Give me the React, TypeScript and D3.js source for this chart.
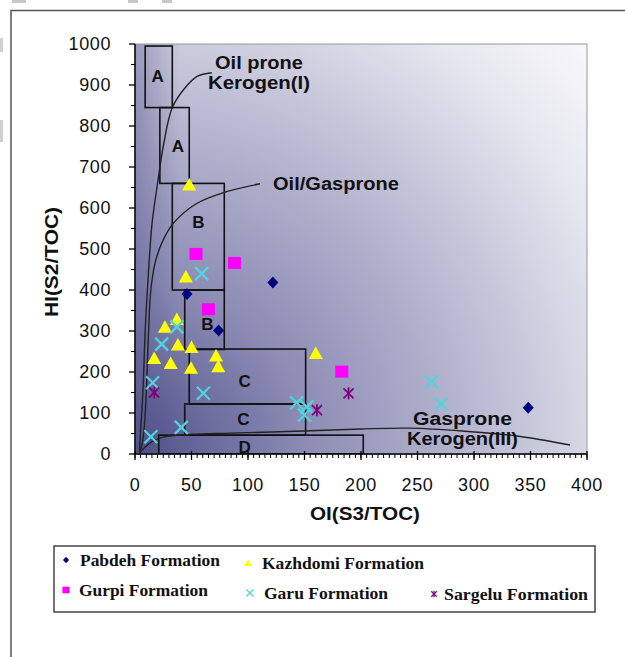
import React from 'react';
import * as d3 from 'd3';

// chart values
const xTickValues = [0, 50, 100, 150, 200, 250, 300, 350, 400];
const yTickValues = [0, 100, 200, 300, 400, 500, 600, 700, 800, 900, 1000];

// [OI, HI]
const pabdeh = [[122, 418], [46, 390], [74, 301], [348, 113]];
const kazhdomi = [
    [48, 656], [45, 432], [37, 328], [26.5, 309], [38, 266], [50, 260],
    [17, 233], [31.6, 221], [49.6, 209], [71.7, 239], [73.7, 213], [160, 245],
];
const gurpi = [[54, 488], [88, 466], [65, 353], [183, 201]];
const garu = [
    [59, 440], [37, 310], [23.6, 268], [15.6, 174], [60.5, 148], [143, 125],
    [152, 115], [150, 95], [41, 65], [14, 42], [262.5, 176], [271, 122],
];
const sargelu = [[17, 150], [189, 148], [161, 107]];

// kerogen zones: [label, oiMin, oiMax, hiMin, hiMax, labelOI, labelHI]
const zones = [
    ['A', 9, 33, 845, 995, 20, 920],
    ['A', 22, 48, 660, 845, 38, 750],
    ['B', 33, 79, 400, 660, 56, 565],
    ['B', 44, 79, 255, 400, 64, 315],
    ['C', 48, 151, 122, 256, 97, 178],
    ['C', 44, 151, 46, 122, 96, 85],
    ['D', 21, 202, 0, 46, 97, 17],
];

// kerogen type curves
const typeI = [[4, 5], [5, 60], [7, 150], [9, 300], [11.5, 424], [15, 560], [20, 661], [25, 750], [33, 845], [44, 892], [55, 921], [68, 930]];
const typeII = [[4, 5], [6, 20], [8, 60], [10, 150], [12, 300], [14, 400], [17.7, 465], [23.6, 514], [34, 563], [54.6, 611], [79, 638], [110.6, 659]];
const typeIII = [[4, 3], [9, 17], [15, 30], [25, 41], [50, 48], [84, 51], [149, 56], [200, 61], [243, 63], [290, 56], [338, 44], [385, 22]];

const W = 625;
const H = 657;
const plot = { l: 135, r: 587, t: 44, b: 454 };

const x = d3.scaleLinear().domain([0, 400]).range([plot.l, plot.r]);
const y = d3.scaleLinear().domain([0, 1000]).range([plot.b, plot.t]);

const sans = '"Liberation Sans", Arial, sans-serif';
const serif = '"Liberation Serif", "Times New Roman", serif';

function Marker({ kind, cx, cy, s = 1 }: { kind: string, cx: number, cy: number, s?: number }) {
    if (kind === 'diamond') {
        return <path d={`M${cx},${cy - 6 * s}L${cx + 5.5 * s},${cy}L${cx},${cy + 6 * s}L${cx - 5.5 * s},${cy}Z`} fill="#000080"/>;
    }
    if (kind === 'square') {
        return <rect x={cx - 6.5 * s} y={cy - 6 * s} width={13 * s} height={12 * s} fill="#ff00ff"/>;
    }
    if (kind === 'triangle') {
        return <path d={`M${cx},${cy - 7 * s}L${cx + 7 * s},${cy + 5.5 * s}L${cx - 7 * s},${cy + 5.5 * s}Z`} fill="#ffff00"/>;
    }
    if (kind === 'x') {
        const a = 6.5 * s;
        return (
            <g stroke="#4fd6dc" strokeWidth={2.2 * Math.max(s, 0.6)}>
                <line x1={cx - a} y1={cy - a} x2={cx + a} y2={cy + a}/>
                <line x1={cx - a} y1={cy + a} x2={cx + a} y2={cy - a}/>
            </g>
        );
    }
    const a = 5 * s;
    return (
        <g stroke="#800080" strokeWidth={1.8 * Math.max(s, 0.7)}>
            <line x1={cx - a} y1={cy - a} x2={cx + a} y2={cy + a}/>
            <line x1={cx - a} y1={cy + a} x2={cx + a} y2={cy - a}/>
            <line x1={cx} y1={cy - a * 1.2} x2={cx} y2={cy + a * 1.2}/>
        </g>
    );
}

const series = [
    { name: 'Pabdeh Formation', kind: 'diamond', data: pabdeh },
    { name: 'Kazhdomi Formation', kind: 'triangle', data: kazhdomi },
    { name: 'Gurpi Formation', kind: 'square', data: gurpi },
    { name: 'Garu Formation', kind: 'x', data: garu },
    { name: 'Sargelu Formation', kind: 'star', data: sargelu },
];

// legend layout: marker x, marker y, text x, text width
const legendPos = [
    [66, 560, 80, 140],
    [248, 563, 262, 162],
    [66, 590, 79, 129],
    [250, 593, 264, 124],
    [434, 594, 444, 144],
];

export default function App() {
    const line = d3.line()
        .x(d => x(d[0]))
        .y(d => y(d[1]))
        .curve(d3.curveCatmullRom.alpha(0.5));

    const minorX = d3.range(0, 401, 5);
    const minorY = d3.range(50, 1000, 100);

    const bold = { fontFamily: sans, fontWeight: 'bold' as const, fill: '#111' };

    return (
        <svg width={W} height={H} style={{ position: 'absolute', left: 0, top: 0, background: '#fff' }}>
            <defs>
                <radialGradient id="bg" gradientUnits="userSpaceOnUse" cx={plot.l} cy={plot.b} r={610}>
                    <stop offset="0" stopColor="#50508a"/>
                    <stop offset="0.28" stopColor="#8c8cb5"/>
                    <stop offset="0.6" stopColor="#bfbfd6"/>
                    <stop offset="0.83" stopColor="#e6e6ef"/>
                    <stop offset="1" stopColor="#f8f8fb"/>
                </radialGradient>
                <linearGradient id="leftshade" x1="0" x2="1" y1="0" y2="0">
                    <stop offset="0" stopColor="#50508a" stopOpacity={0.4}/>
                    <stop offset="0.1" stopColor="#50508a" stopOpacity={0}/>
                </linearGradient>
                <clipPath id="plotclip">
                    <rect x={plot.l} y={plot.t} width={plot.r - plot.l} height={plot.b - plot.t}/>
                </clipPath>
            </defs>

            {/* crop leftovers and outer frame */}
            <rect x={12} y={0} width={14} height={3} fill="#c8c8c8"/>
            <rect x={128} y={0} width={10} height={3} fill="#c8c8c8"/>
            <rect x={162} y={0} width={10} height={3} fill="#c8c8c8"/>
            <rect x={0} y={38} width={3} height={14} fill="#d0d0d0"/>
            <rect x={0} y={120} width={3} height={22} fill="#d0d0d0"/>
            <path d={`M11,${H}V10.5H${W}`} fill="none" stroke="#555" strokeWidth={1.5}/>

            {/* plot area */}
            <rect x={plot.l} y={plot.t} width={plot.r - plot.l} height={plot.b - plot.t} fill="url(#bg)"/>
            <rect x={plot.l} y={plot.t} width={plot.r - plot.l} height={plot.b - plot.t} fill="url(#leftshade)" stroke="#9a9a9a" strokeWidth={1}/>

            <g clipPath="url(#plotclip)">
                {zones.map((z, i) => (
                    <rect key={i} x={x(z[1] as number)} y={y(z[4] as number)}
                          width={x(z[2] as number) - x(z[1] as number)}
                          height={y(z[3] as number) - y(z[4] as number)}
                          fill="none" stroke="#111" strokeWidth={1.6}/>
                ))}
                {zones.map((z, i) => (
                    <text key={'l' + i} x={x(z[5] as number)} y={y(z[6] as number)} textAnchor="middle"
                          dominantBaseline="central" {...bold} fontSize={17}>{z[0]}</text>
                ))}
                <path d={line(typeI as any) || ''} fill="none" stroke="#222" strokeWidth={1.4}/>
                <path d={line(typeII as any) || ''} fill="none" stroke="#222" strokeWidth={1.4}/>
                <path d={line(typeIII as any) || ''} fill="none" stroke="#222" strokeWidth={1.4}/>
            </g>

            {/* curve labels */}
            <g {...bold} fontSize={18}>
                <text x={215} y={63} dominantBaseline="central" textLength={88} lengthAdjust="spacingAndGlyphs">Oil prone</text>
                <text x={208} y={83} dominantBaseline="central" textLength={102} lengthAdjust="spacingAndGlyphs">Kerogen(I)</text>
                <text x={273} y={184} dominantBaseline="central" textLength={126} lengthAdjust="spacingAndGlyphs">Oil/Gasprone</text>
                <text x={413} y={419} dominantBaseline="central" textLength={99} lengthAdjust="spacingAndGlyphs">Gasprone</text>
                <text x={407} y={439} dominantBaseline="central" textLength={111} lengthAdjust="spacingAndGlyphs">Kerogen(III)</text>
            </g>

            {/* points */}
            {series.map(s => (
                <g key={s.name}>
                    {s.data.map((d, i) => <Marker key={i} kind={s.kind} cx={x(d[0])} cy={y(d[1])}/>)}
                </g>
            ))}

            {/* y axis */}
            <line x1={plot.l} x2={plot.l} y1={plot.t} y2={plot.b} stroke="#000" strokeWidth={1.5}/>
            {yTickValues.map(v => (
                <g key={v}>
                    <line x1={plot.l - 6} x2={plot.l} y1={y(v)} y2={y(v)} stroke="#000" strokeWidth={1.3}/>
                    <text x={111} y={y(v)} textAnchor="end" dominantBaseline="central" fontFamily={sans}
                          fontSize={18} letterSpacing={0.6} fill="#111">{v}</text>
                </g>
            ))}
            {minorY.map(v => (
                <line key={'m' + v} x1={plot.l - 4} x2={plot.l} y1={y(v)} y2={y(v)} stroke="#000" strokeWidth={1.1}/>
            ))}

            {/* x axis */}
            <line x1={plot.l} x2={plot.r} y1={plot.b} y2={plot.b} stroke="#000" strokeWidth={1.5}/>
            {minorX.map(v => (
                <line key={'mx' + v} x1={x(v)} x2={x(v)} y1={plot.b} y2={plot.b + 4} stroke="#000" strokeWidth={1}/>
            ))}
            {xTickValues.map(v => (
                <g key={v}>
                    <line x1={x(v)} x2={x(v)} y1={plot.b - 3} y2={plot.b + 6} stroke="#000" strokeWidth={1.3}/>
                    <text x={x(v)} y={485} textAnchor="middle" dominantBaseline="central" fontFamily={sans}
                          fontSize={18} letterSpacing={0.6} fill="#111">{v}</text>
                </g>
            ))}

            {/* axis titles */}
            <text x={365} y={514} textAnchor="middle" dominantBaseline="central" {...bold}
                  fontSize={18} textLength={110} lengthAdjust="spacingAndGlyphs">OI(S3/TOC)</text>
            <text transform="translate(52,262) rotate(-90)" textAnchor="middle" dominantBaseline="central" {...bold}
                  fontSize={18} textLength={110} lengthAdjust="spacingAndGlyphs">HI(S2/TOC)</text>

            {/* legend */}
            <rect x={54} y={546} width={541} height={66} fill="#fff" stroke="#444" strokeWidth={1.5}/>
            {series.map((s, i) => {
                const p = legendPos[i];
                return (
                    <g key={'lg' + s.name}>
                        <Marker kind={s.kind} cx={p[0]} cy={p[1]} s={0.55}/>
                        <text x={p[2]} y={p[1]} dominantBaseline="central" fontFamily={serif} fontWeight="bold"
                              fontSize={17} fill="#111" textLength={p[3]} lengthAdjust="spacingAndGlyphs">{s.name}</text>
                    </g>
                );
            })}
        </svg>
    );
}
